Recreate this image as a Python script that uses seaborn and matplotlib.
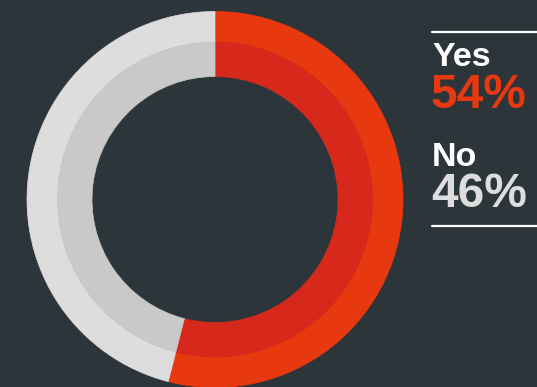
import matplotlib
matplotlib.use("Agg")
import matplotlib.pyplot as plt
from matplotlib.lines import Line2D
import seaborn as sns

labels = ["Yes", "No"]
values = [54, 46]
outer_colors = ["#e8380f", "#dcdddc"]
inner_colors = ["#d7291b", "#c9c9c9"]
text_colors = ["#e8380f", "#dcdddc"]
bg = "#2b353a"

sns.set_theme(style="white")
plt.rcParams["font.family"] = ["Liberation Sans", "DejaVu Sans"]

W, H = 537, 387
fig = plt.figure(figsize=(W / 100, H / 100), dpi=100, facecolor=bg)

cx, cy, R = 215, 199.5, 188
ax = fig.add_axes([(cx - R) / W, (H - cy - R) / H, 2 * R / W, 2 * R / H])
ax.set_facecolor(bg)
ax.axis("off")

r_mid, r_hole = 157.5 / R, 123 / R
rings = [(1.0, 1.0 - r_mid, outer_colors), (r_mid, r_mid - r_hole, inner_colors)]
for radius, width, cols in rings:
    wedges, _ = ax.pie(values, radius=radius, colors=cols, startangle=90,
                       counterclock=False, wedgeprops=dict(width=width, linewidth=0))
    # paint each wedge's outline in its own fill to close the antialiasing seams
    for w, col in zip(wedges, cols):
        w.set_edgecolor(col)
        w.set_linewidth(0.5)
ax.set_xlim(-1, 1)
ax.set_ylim(-1, 1)
ax.set_aspect("equal")

# legend block on the right
x0 = 432 / W
fig.add_artist(Line2D([x0, 1.0], [1 - 32 / H, 1 - 32 / H], color="white", lw=1.6))
fig.add_artist(Line2D([x0, 1.0], [1 - 226 / H, 1 - 226 / H], color="white", lw=1.6))

label_y = [58, 157]
pct_y = [96, 194]
for lab, v, c, ly, py in zip(labels, values, text_colors, label_y, pct_y):
    fig.text(x0, 1 - ly / H, lab, color="white", fontsize=24.5, fontweight="bold",
             ha="left", va="center")
    fig.text(x0 - 1 / W, 1 - py / H, f"{v}%", color=c, fontsize=34.5, fontweight="bold",
             ha="left", va="center")

fig.savefig("out.png", dpi=100, facecolor=bg)
